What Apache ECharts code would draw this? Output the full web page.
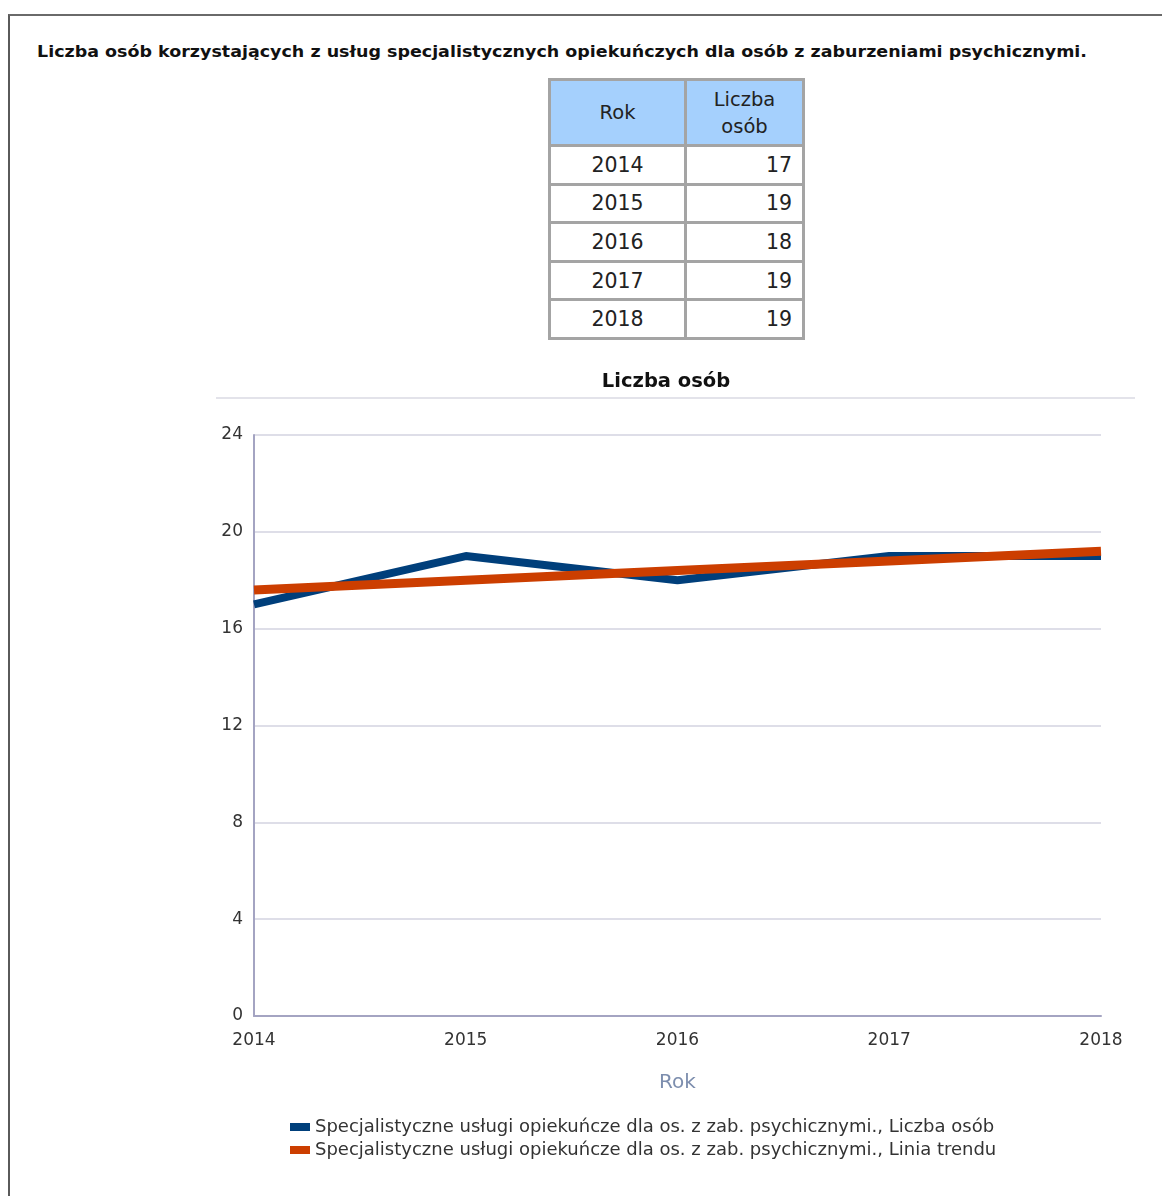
<!DOCTYPE html>
<html>
<head>
<meta charset="utf-8">
<script src="https://cdn.jsdelivr.net/npm/echarts@6/dist/echarts.min.js"></script>
<style>
  html, body { margin: 0; padding: 0; background: #fff; width: 1162px; height: 1196px; overflow: hidden; font-family: "DejaVu Sans", sans-serif; }
  #frame { position: absolute; left: 8px; top: 14px; right: 0; bottom: 0; border-left: 2px solid #5a5a5a; border-top: 2px solid #6a6a6a; }
  #title { position: absolute; left: 37px; top: 43px; font-weight: bold; font-size: 15px; color: #111; white-space: nowrap; transform-origin: left top; }
  #tbl { position: absolute; left: 548px; top: 78px; border-collapse: collapse; font-size: 20.5px; color: #222; }
  #tbl td, #tbl th { border: 3px solid #a4a4a4; padding: 0 6px; }
  #tbl th { background: #a5d0fd; font-weight: normal; height: 63px; line-height: 27px; font-size: 19.5px; }
  #tbl td { height: 35.6px; }
  #tbl .c1 { width: 121px; text-align: center; }
  #tbl .c2 { width: 99px; text-align: right; padding-right: 10px; }
  #chart { position: absolute; left: 0; top: 350px; width: 1162px; height: 846px; }
</style>
</head>
<body>
<div id="frame"></div>
<div id="title"></div>
<table id="tbl"></table>
<div id="chart"></div>
<script>
const pageTitle = "Liczba osób korzystających z usług specjalistycznych opiekuńczych dla osób z zaburzeniami psychicznymi.";
const chartTitle = "Liczba osób";
const tableHeaders = ["Rok", "Liczba<br>osób"];
const years = ["2014", "2015", "2016", "2017", "2018"];
const persons = [17, 19, 18, 19, 19];
const trend = [17.6, 18.0, 18.4, 18.8, 19.2];
const yTicks = [0, 4, 8, 12, 16, 20, 24];
const xAxisName = "Rok";
const seriesNames = [
  "Specjalistyczne usługi opiekuńcze dla os. z zab. psychicznymi., Liczba osób",
  "Specjalistyczne usługi opiekuńcze dla os. z zab. psychicznymi., Linia trendu"
];

// title, fitted to reference width
const t = document.getElementById('title');
t.textContent = pageTitle;
const w = t.getBoundingClientRect().width;
t.style.transform = 'scaleX(' + (1050 / w) + ')';

// table
let html = '<tr><th class="c1">' + tableHeaders[0] + '</th><th class="c2" style="text-align:center;padding-right:6px">' + tableHeaders[1] + '</th></tr>';
years.forEach((y, i) => {
  html += '<tr><td class="c1">' + y + '</td><td class="c2">' + persons[i] + '</td></tr>';
});
document.getElementById('tbl').innerHTML = html;

const chart = echarts.init(document.getElementById('chart'));
const font = '"DejaVu Sans", sans-serif';
chart.setOption({
  animation: false,
  textStyle: { fontFamily: font },
  title: {
    text: chartTitle, left: 661, top: 17, textAlign: 'center',
    textStyle: { fontSize: 19.5, fontWeight: 'bold', color: '#111', fontFamily: font }
  },
  graphic: [{
    type: 'line', shape: { x1: 216, y1: 48, x2: 1135, y2: 48 },
    style: { stroke: '#e3e3ea', lineWidth: 2 }
  }],
  grid: { left: 254, right: 61, top: 85, bottom: 180, containLabel: false },
  legend: {
    orient: 'vertical', left: 285, top: 763,
    itemWidth: 20, itemHeight: 8, itemGap: 5, icon: 'rect',
    textStyle: { fontSize: 18, color: '#333', fontFamily: font },
    data: seriesNames
  },
  xAxis: {
    type: 'category', data: years, boundaryGap: false,
    name: xAxisName, nameLocation: 'middle', nameGap: 57,
    nameTextStyle: { fontSize: 20, color: '#7d8eae' },
    axisLine: { lineStyle: { color: '#a4a4c2', width: 2 } },
    axisTick: { show: false },
    axisLabel: { fontSize: 17, color: '#333', margin: 16 },
    splitLine: { show: false }
  },
  yAxis: {
    type: 'value', min: yTicks[0], max: yTicks[yTicks.length - 1], interval: 4,
    axisLine: { show: true, lineStyle: { color: '#a4a4c2', width: 2 } },
    axisTick: { show: false },
    axisLabel: { fontSize: 17, color: '#333', margin: 11 },
    splitLine: { lineStyle: { color: '#dedee8', width: 2 } }
  },
  series: [
    { name: seriesNames[0], type: 'line', data: persons, symbol: 'none',
      itemStyle: { color: '#003f7b' }, lineStyle: { color: '#003f7b', width: 8 }, z: 2 },
    { name: seriesNames[1], type: 'line', data: trend, symbol: 'none',
      itemStyle: { color: '#cc3e00' }, lineStyle: { color: '#cc3e00', width: 9 }, z: 3 }
  ]
});
</script>
</body>
</html>
